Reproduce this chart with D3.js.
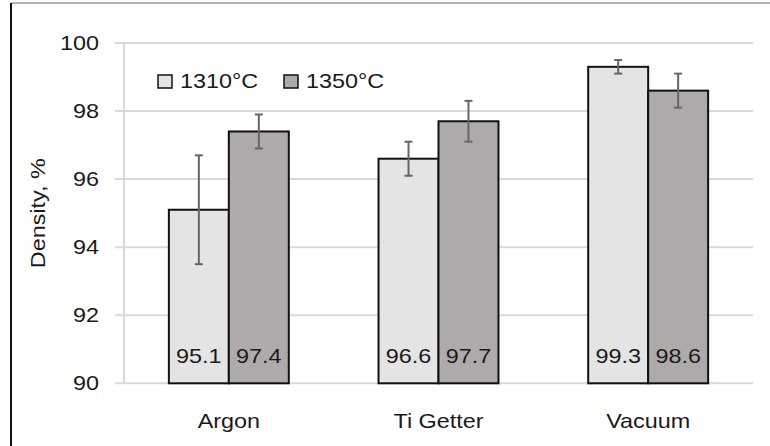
<!DOCTYPE html>
<html>
<head>
<meta charset="utf-8">
<script src="https://cdn.jsdelivr.net/npm/d3@7"></script>
<style>
  html, body { margin: 0; padding: 0; background: #fff; }
  svg { display: block; }
  text { font-family: "Liberation Sans", Arial, sans-serif; fill: #1a1a1a; }
</style>
</head>
<body>
<svg id="chart" width="770" height="446"></svg>
<script>
// Sintering atmosphere vs. relative density
const categories = ["Argon", "Ti Getter", "Vacuum"];
const seriesNames = ["1310°C", "1350°C"];
const density1310 = [95.1, 96.6, 99.3];
const density1350 = [97.4, 97.7, 98.6];
const err1310 = [1.6, 0.5, 0.2];
const err1350 = [0.5, 0.6, 0.5];
const yTicks = [90, 92, 94, 96, 98, 100];
const yLabel = "Density, %";

const colors = { "1310°C": "#e4e4e4", "1350°C": "#aeaaaa" };

const svg = d3.select("#chart");
const W = 770, H = 446;
const plot = { left: 124, right: 753, top: 43, bottom: 383.3 };
const SX = 1.17; // horizontal text stretch

const rows = [];
categories.forEach((c, i) => {
  rows.push({ cat: c, s: seriesNames[0], v: density1310[i], e: err1310[i] });
  rows.push({ cat: c, s: seriesNames[1], v: density1350[i], e: err1350[i] });
});

const x0 = d3.scaleBand().domain(categories).range([plot.left, plot.right]);
const bw = x0.bandwidth();
const groupFrac = 0.572;
const x1 = d3.scaleBand().domain(seriesNames)
  .range([bw * (1 - groupFrac) / 2, bw * (1 + groupFrac) / 2]);
const y = d3.scaleLinear().domain([90, 100]).range([plot.bottom, plot.top]);

function stretchedText(g, x, yy, str, anchor, size) {
  return g.append("text")
    .attr("transform", `translate(${x},${yy}) scale(${SX},1)`)
    .attr("text-anchor", anchor)
    .attr("font-size", size)
    .text(str);
}

// outer frame
svg.append("line").attr("x1", 11).attr("x2", W).attr("y1", 3).attr("y2", 3)
  .attr("stroke", "#b5b0b0").attr("stroke-width", 2);
svg.append("line").attr("x1", 11).attr("x2", 11).attr("y1", 3).attr("y2", H)
  .attr("stroke", "#111").attr("stroke-width", 2);

// gridlines and tick marks
const grid = svg.append("g");
grid.selectAll("line.grid").data(yTicks).join("line")
  .attr("class", "grid")
  .attr("x1", plot.left - 9).attr("x2", plot.right)
  .attr("y1", d => y(d)).attr("y2", d => y(d))
  .attr("stroke", "#d9d9d9").attr("stroke-width", 2);
grid.append("line")
  .attr("x1", plot.left).attr("x2", plot.left)
  .attr("y1", y(100)).attr("y2", y(90))
  .attr("stroke", "#d9d9d9").attr("stroke-width", 2);

// y tick labels
const yAx = svg.append("g");
yTicks.forEach(t => stretchedText(yAx, 99, y(t) + 7, String(t), "end", 20));

// y axis title
svg.append("text")
  .attr("transform", `translate(45,${(plot.top + plot.bottom) / 2}) rotate(-90) scale(${SX},1)`)
  .attr("text-anchor", "middle").attr("font-size", 20)
  .text(yLabel);

// bars
const bars = svg.append("g");
bars.selectAll("rect").data(rows).join("rect")
  .attr("x", d => x0(d.cat) + x1(d.s))
  .attr("width", x1.bandwidth())
  .attr("y", d => y(d.v))
  .attr("height", d => y(90) - y(d.v))
  .attr("fill", d => colors[d.s])
  .attr("stroke", "#111").attr("stroke-width", 2);

// error bars
const eb = svg.append("g").attr("stroke", "#666").attr("stroke-width", 2);
rows.forEach(d => {
  const cx = x0(d.cat) + x1(d.s) + x1.bandwidth() / 2;
  eb.append("line").attr("x1", cx).attr("x2", cx)
    .attr("y1", y(d.v + d.e)).attr("y2", y(d.v - d.e));
  [d.v + d.e, d.v - d.e].forEach(v => {
    eb.append("line").attr("x1", cx - 4).attr("x2", cx + 4)
      .attr("y1", y(v)).attr("y2", y(v));
  });
});

// value labels inside the bars
const vl = svg.append("g");
rows.forEach(d => {
  const cx = x0(d.cat) + x1(d.s) + x1.bandwidth() / 2;
  stretchedText(vl, cx, 363, d.v.toFixed(1), "middle", 20);
});

// category labels
const xl = svg.append("g");
categories.forEach(c => stretchedText(xl, x0(c) + bw / 2, 428, c, "middle", 20));

// legend
const lg = svg.append("g");
const legendX = [158, 284];
seriesNames.forEach((s, i) => {
  lg.append("rect").attr("x", legendX[i]).attr("y", 75).attr("width", 14).attr("height", 13)
    .attr("fill", colors[s]).attr("stroke", "#111").attr("stroke-width", 1.5);
  stretchedText(lg, legendX[i] + 22, 88, s, "start", 20);
});
</script>
</body>
</html>
